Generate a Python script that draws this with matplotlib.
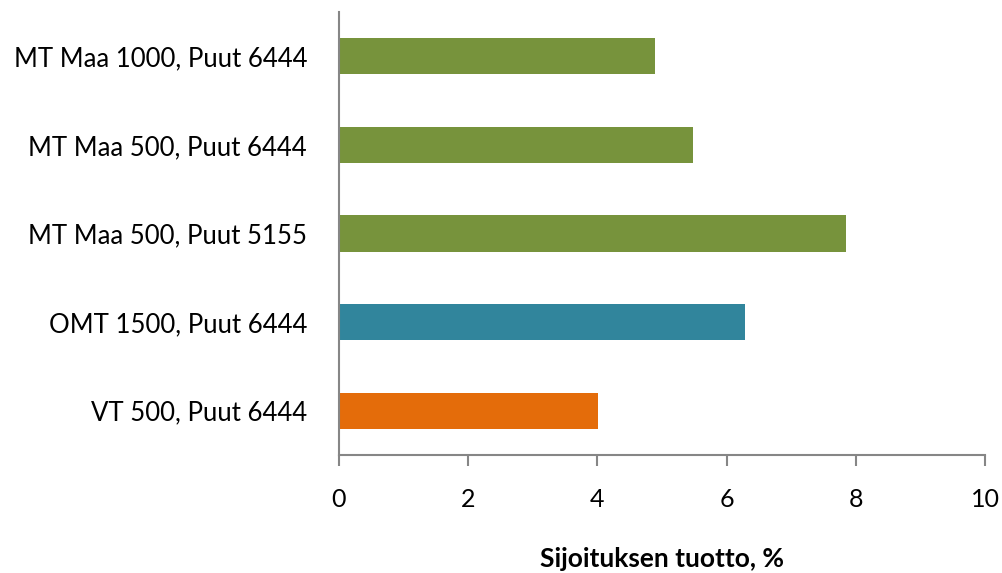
import matplotlib
matplotlib.use("Agg")
import matplotlib.pyplot as plt

categories = ["MT Maa 1000, Puut 6444", "MT Maa 500, Puut 6444", "MT Maa 500, Puut 5155",
              "OMT 1500, Puut 6444", "VT 500, Puut 6444"]
values = [4.89, 5.48, 7.85, 6.29, 4.01]
colors = ["#77933C", "#77933C", "#77933C", "#31859C", "#E46C0A"]
xticks = [0, 2, 4, 6, 8, 10]
xlabel = "Sijoituksen tuotto, %"

plt.rcParams['font.family'] = ['Lato', 'DejaVu Sans']

fig = plt.figure(figsize=(10.03, 5.73), dpi=100)
ax = fig.add_axes([339/1003, 1-455/573, (985-339)/1003, (455-12)/573])

ypos = list(range(len(categories)))[::-1]
ax.barh(ypos, values, height=0.41, color=colors)
ax.set_ylim(-0.5, len(categories)-0.5)
ax.set_xlim(0, 10)
ax.set_xticks(xticks)
ax.set_xticklabels([str(t) for t in xticks], fontsize=18)
ax.set_yticks(ypos)
ax.set_yticklabels(categories, fontsize=18.5)
ax.tick_params(axis='y', length=0, pad=23)
ax.tick_params(axis='x', length=8, width=1.5, color='#868686', pad=16)
for s in ['top', 'right']:
    ax.spines[s].set_visible(False)
for s in ['left', 'bottom']:
    ax.spines[s].set_color('#868686')
    ax.spines[s].set_linewidth(1.5)
ax.set_xlabel(xlabel, fontsize=19, fontweight='bold', labelpad=26)

fig.savefig("out.png", dpi=100)
